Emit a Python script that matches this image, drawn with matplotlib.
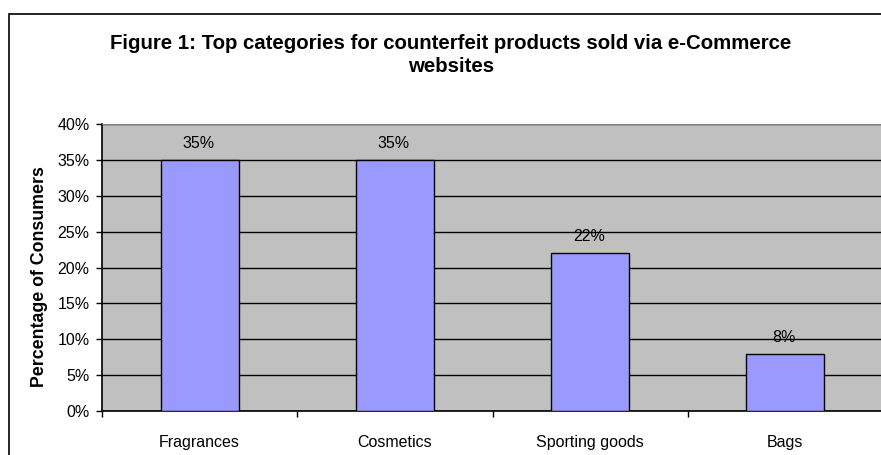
import matplotlib
matplotlib.use("Agg")
import matplotlib.pyplot as plt
from matplotlib.patches import Rectangle
from matplotlib.ticker import MultipleLocator, FuncFormatter, FixedLocator

categories = ["Fragrances", "Cosmetics", "Sporting goods", "Bags"]
values = [35, 35, 22, 8]
title = "Figure 1: Top categories for counterfeit products sold via e-Commerce\nwebsites"
ylabel = "Percentage of Consumers"

plt.rcParams['font.family'] = ['Liberation Sans', 'DejaVu Sans']

fig = plt.figure(figsize=(8.81, 4.55), dpi=100)
fig.patch.set_facecolor('white')
fig.patches.append(Rectangle((9/881, -0.2), 1.2, 0.2 + 1 - 14/455, transform=fig.transFigure,
                             fill=False, edgecolor='black', linewidth=1.2, zorder=0))

ax = fig.add_axes([102/881, 1 - 411/455, 781/881, (411 - 124)/455])
ax.set_facecolor('#C0C0C0')
x = list(range(len(categories)))
bars = ax.bar(x, values, width=0.4, color='#9999FF', edgecolor='black', linewidth=1.0, zorder=3)
ax.set_xlim(-0.5, len(categories) - 0.5)
ax.set_ylim(0, 40)
ax.yaxis.set_major_locator(MultipleLocator(5))
ax.yaxis.set_major_formatter(FuncFormatter(lambda v, p: f"{int(v)}%"))
ax.grid(axis='y', color='black', linewidth=1.0, zorder=1)
ax.set_axisbelow(True)

ax.set_xticks(x)
ax.set_xticklabels(categories, fontsize=11.5)
ax.tick_params(axis='x', which='major', length=0, pad=17)
ax.xaxis.set_minor_locator(FixedLocator([i + 0.5 for i in range(-1, len(categories))]))
ax.tick_params(axis='x', which='minor', length=4, width=1, direction='out')
ax.tick_params(axis='y', length=4, width=1, direction='out', pad=5, labelsize=11.5)

for s in ['left', 'bottom']:
    ax.spines[s].set_color('black')
    ax.spines[s].set_linewidth(1.2)
ax.spines['top'].set_color('#808080')
ax.spines['right'].set_visible(False)

for xi, v in zip(x, values):
    ax.annotate(f"{v}%", (xi, v), xytext=(-1, 6.5), textcoords='offset points',
                ha='center', va='bottom', fontsize=11.5, zorder=5)

ax.set_ylabel(ylabel, fontsize=12.8, fontweight='bold', va='center')
ax.yaxis.set_label_coords(-(102 - 40) / 781, (411 - 277) / 287)
fig.text(451/881, 1 - 55/455, title, ha='center', va='center', fontsize=14.7,
         fontweight='bold', linespacing=1.25)

fig.savefig("out.png", dpi=100)
